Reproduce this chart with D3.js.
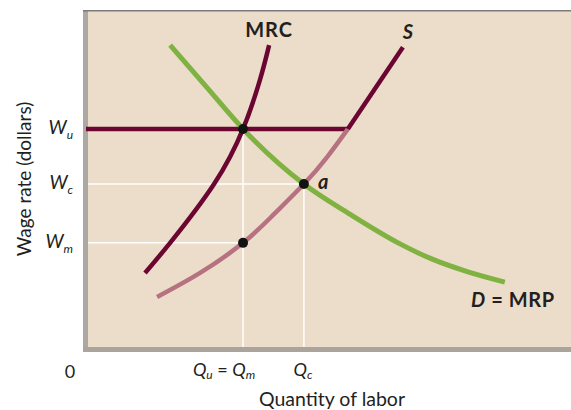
<!DOCTYPE html>
<html>
<head>
<meta charset="utf-8">
<script src="https://cdn.jsdelivr.net/npm/d3@7"></script>
<style>
  html, body { margin: 0; padding: 0; background: #ffffff; }
  svg { display: block; }
  text { font-family: Lato, "Open Sans", sans-serif; fill: #231f20; }
</style>
</head>
<body>
<svg id="chart" width="571" height="410"></svg>
<script>
// ---- data (quantity of labour, wage rate in arbitrary units 0-100) ----
const mrcQ = [11.8, 17.0, 26.1, 32.1, 35.6, 37.5];
const mrcW = [22.5, 31.4, 48.8, 65.1, 79.6, 89.9];

const supplyQ = [14.3, 23.2, 32.1, 38.3, 44.7, 49.5, 53.8];
const supplyW = [15.4, 22.5, 31.4, 39.6, 48.8, 56.8, 65.1];
const supplyUpperQ = [53.8, 65.2];
const supplyUpperW = [65.1, 89.3];

const demandQ = [17.0, 24.6, 32.1, 44.7, 54.2, 64.6, 71.4, 78.5, 86.3];
const demandW = [89.9, 77.4, 65.1, 48.8, 39.9, 31.1, 26.5, 22.9, 19.8];

const wageSubs = ["u", "c", "m"];
const wageValues = [65.1, 48.8, 31.4];
const qm = 32.1, qc = 44.7;

// ---- layout ----
const svg = d3.select("#chart");
const x = d3.scaleLinear().domain([0, 100]).range([88, 571]);
const y = d3.scaleLinear().domain([0, 100]).range([349, 11]);

const beige = "#ecddca", maroon = "#6b0632", pink = "#b67280", green = "#7fb241";

// panel
svg.append("rect").attr("x", 85).attr("y", 10).attr("width", 486).attr("height", 340).attr("fill", beige);
svg.append("rect").attr("x", 83).attr("y", 10).attr("width", 5).attr("height", 342).attr("fill", "#aca8a3");
svg.append("rect").attr("x", 83).attr("y", 347).attr("width", 488).attr("height", 5).attr("fill", "#aaa49d");
svg.append("line").attr("x1", 83).attr("x2", 571).attr("y1", 10.7).attr("y2", 10.7)
  .attr("stroke", "#7d7b79").attr("stroke-width", 1.6);

// guide lines
const guides = svg.append("g").attr("stroke", "#ffffff").attr("stroke-width", 1.5);
guides.append("line").attr("x1", x(0)).attr("x2", x(qc)).attr("y1", y(wageValues[1])).attr("y2", y(wageValues[1]));
guides.append("line").attr("x1", x(0)).attr("x2", x(qm)).attr("y1", y(wageValues[2])).attr("y2", y(wageValues[2]));
guides.append("line").attr("x1", x(qm)).attr("x2", x(qm)).attr("y1", y(wageValues[0])).attr("y2", y(0) - 2);
guides.append("line").attr("x1", x(qc)).attr("x2", x(qc)).attr("y1", y(wageValues[1])).attr("y2", y(0) - 2);

const line = d3.line().x(d => x(d[0])).y(d => y(d[1])).curve(d3.curveNatural);
const lineD = d3.line().x(d => x(d[0])).y(d => y(d[1])).curve(d3.curveMonotoneX);
const zip = (a, b) => a.map((v, i) => [v, b[i]]);

// union wage line
svg.append("line").attr("x1", x(0) - 2).attr("x2", x(supplyUpperQ[0])).attr("y1", y(wageValues[0])).attr("y2", y(wageValues[0]))
  .attr("stroke", maroon).attr("stroke-width", 4.5);

// supply (lower part, pink)
svg.append("path").attr("d", line(zip(supplyQ, supplyW))).attr("fill", "none").attr("stroke", pink).attr("stroke-width", 4.5);
// supply upper part
svg.append("path").attr("d", line(zip(supplyUpperQ, supplyUpperW))).attr("fill", "none").attr("stroke", maroon).attr("stroke-width", 4.5);
// MRC
svg.append("path").attr("d", line(zip(mrcQ, mrcW))).attr("fill", "none").attr("stroke", maroon).attr("stroke-width", 4.5);
// demand
svg.append("path").attr("d", lineD(zip(demandQ, demandW))).attr("fill", "none").attr("stroke", green).attr("stroke-width", 5);

// dots
const dots = [[qm, wageValues[0]], [qc, wageValues[1]], [qm, wageValues[2]]];
svg.selectAll("circle.pt").data(dots).enter().append("circle")
  .attr("cx", d => x(d[0])).attr("cy", d => y(d[1])).attr("r", 5).attr("fill", "#121212");

// curve labels
svg.append("text").attr("x", x(mrcQ[mrcQ.length - 1])).attr("y", y(mrcW[mrcW.length - 1]) - 8)
  .attr("text-anchor", "middle").attr("font-size", 20).attr("font-weight", "bold").attr("letter-spacing", 1).text("MRC");
svg.append("text").attr("x", x(supplyUpperQ[1]) + 5).attr("y", y(supplyUpperW[1]) - 8)
  .attr("text-anchor", "middle").attr("font-size", 20).attr("font-weight", "bold").attr("font-style", "italic").text("S");
svg.append("text").attr("x", x(qc) + 14).attr("y", y(wageValues[1]) + 5)
  .attr("font-size", 20).attr("font-weight", "bold").attr("font-style", "italic").text("a");
const dl = svg.append("text").attr("x", x(demandQ[demandQ.length - 1]) + 8).attr("y", y(demandW[demandW.length - 1]) + 25)
  .attr("text-anchor", "middle").attr("font-size", 20).attr("font-weight", "bold").attr("letter-spacing", 0.6);
dl.append("tspan").attr("font-style", "italic").text("D");
dl.append("tspan").text(" = MRP");

// wage labels
wageSubs.forEach((s, i) => {
  const t = svg.append("text").attr("x", 73).attr("y", y(wageValues[i]) + 5)
    .attr("text-anchor", "end").attr("font-size", 19).attr("font-style", "italic");
  t.append("tspan").text("W");
  t.append("tspan").attr("font-size", 12).attr("dy", 5).text(s);
});

// quantity labels
svg.append("text").attr("x", 70).attr("y", 378).attr("text-anchor", "middle").attr("font-size", 18).text("0");
const q1 = svg.append("text").attr("x", x(qm) - 19).attr("y", 376).attr("text-anchor", "middle").attr("font-size", 18).attr("font-style", "italic");
q1.append("tspan").text("Q");
q1.append("tspan").attr("font-size", 12).attr("dy", 3).text("u");
q1.append("tspan").attr("dy", -3).attr("font-style", "normal").text(" = ");
q1.append("tspan").text("Q");
q1.append("tspan").attr("font-size", 12).attr("dy", 3).text("m");
const q2 = svg.append("text").attr("x", x(qc) - 1).attr("y", 376).attr("text-anchor", "middle").attr("font-size", 18).attr("font-style", "italic");
q2.append("tspan").text("Q");
q2.append("tspan").attr("font-size", 12).attr("dy", 3).text("c");

// axis titles
svg.append("text").attr("x", 332).attr("y", 406).attr("text-anchor", "middle").attr("font-size", 19.5).text("Quantity of labor");
svg.append("text").attr("transform", "translate(31,179) rotate(-90)").attr("text-anchor", "middle").attr("font-size", 19).text("Wage rate (dollars)");
</script>
</body>
</html>
